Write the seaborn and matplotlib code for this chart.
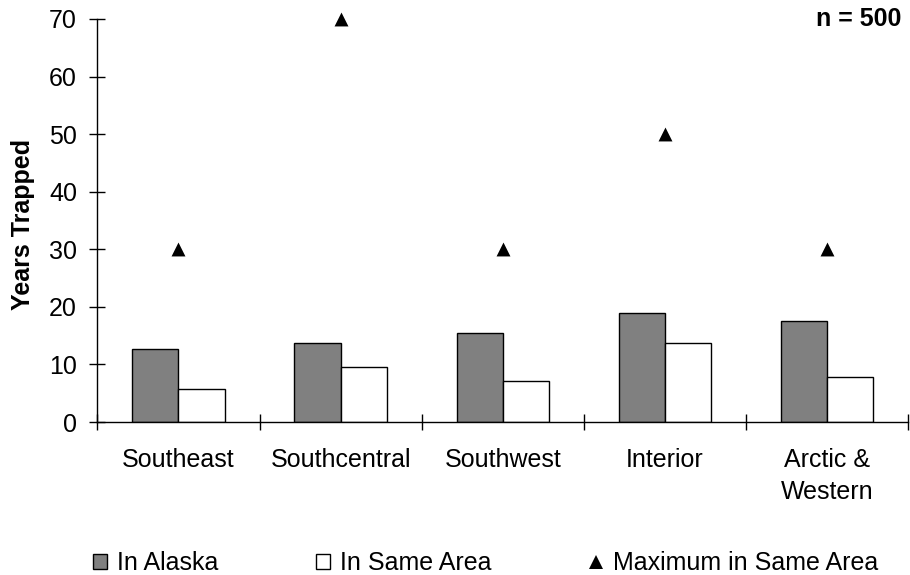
import pandas as pd
import seaborn as sns
import matplotlib.pyplot as plt
from matplotlib.ticker import FixedLocator

# values
regions = ['Southeast', 'Southcentral', 'Southwest', 'Interior', 'Arctic &\nWestern']
in_alaska = [12.7, 13.8, 15.5, 19.0, 17.6]
in_same_area = [5.8, 9.6, 7.2, 13.8, 7.9]
max_same_area = [30, 70, 30, 50, 30]

sns.set_style('white')
plt.rcParams['font.family'] = ['Liberation Sans', 'DejaVu Sans']
plt.rcParams['font.size'] = 18
plt.rcParams['text.color'] = 'black'
plt.rcParams['axes.labelcolor'] = 'black'

# long form table for the bars
bars = pd.DataFrame({
    'Region': regions * 2,
    'Years': in_alaska + in_same_area,
    'Series': ['In Alaska'] * len(regions) + ['In Same Area'] * len(regions),
})
maxima = pd.DataFrame({'Region': regions, 'Years': max_same_area,
                       'Series': 'Maximum in Same Area'})

fig = plt.figure(figsize=(9.1, 5.75), dpi=100)
ax = fig.add_axes([0.107, 0.266, 0.891, 0.701])

sns.barplot(data=bars, x='Region', y='Years', hue='Series', order=regions,
            palette=['#808080', 'white'], edgecolor='black', linewidth=1.0,
            width=0.57, gap=0, ax=ax)
sns.stripplot(data=maxima, x='Region', y='Years', hue='Series', order=regions,
              palette=['black'], marker='^', size=10, jitter=False,
              linewidth=0, ax=ax)
for coll in ax.collections:
    coll.set_clip_on(False)

ax.set_xlim(-0.5, len(regions) - 0.5)
ax.set_ylim(0, 70)
ax.set_yticks(range(0, 71, 10))
ax.set_xlabel('')
ax.set_ylabel('Years Trapped', fontsize=18, fontweight='bold', color='black')
ax.yaxis.set_label_coords(-0.077, 0.49)

sns.despine(ax=ax, top=True, right=True)
for side in ['left', 'bottom']:
    ax.spines[side].set_color('black')
    ax.spines[side].set_linewidth(1.0)

# category labels centred, tick marks on the boundaries
ax.tick_params(axis='x', which='major', length=0, pad=19, labelsize=18,
               colors='black', labelcolor='black')
for lbl in ax.get_xticklabels():
    lbl.set_linespacing(1.4)
ax.xaxis.set_minor_locator(FixedLocator([i - 0.5 for i in range(len(regions) + 1)]))
ax.tick_params(axis='x', which='minor', direction='inout', length=12, width=1.0,
               color='black', bottom=True)
ax.tick_params(axis='y', direction='inout', length=11.5, width=1.0, pad=9,
               labelsize=18, colors='black', labelcolor='black', left=True)

fig.text(0.991, 0.967, 'n = 500', ha='right', va='center',
         fontsize=18, fontweight='bold', color='black')

handles, labels = ax.get_legend_handles_labels()
leg = ax.legend(handles, labels, loc='center left',
                bbox_to_anchor=(93 / 910, 1 - 563 / 575),
                bbox_transform=fig.transFigure, ncol=3, frameon=False, fontsize=18,
                handlelength=0.56, handleheight=0.56, handletextpad=0.4,
                columnspacing=3.9, borderpad=0, borderaxespad=0)
for t in leg.get_texts():
    t.set_color('black')

fig.savefig('out.png', dpi=100)
